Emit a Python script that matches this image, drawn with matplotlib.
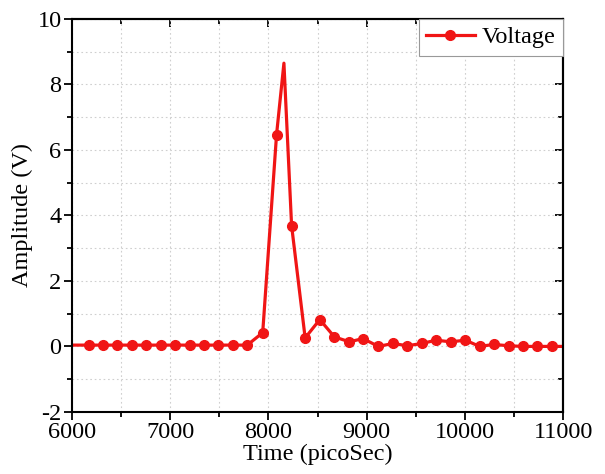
import numpy as np
from matplotlib import pyplot as plt
from matplotlib.ticker import MultipleLocator

# time points (ps) and amplitude (V)
time_ps = [6020, 6169, 6314, 6459, 6608, 6757, 6902, 7047, 7196, 7345, 7490,
           7639, 7784, 7941, 8082, 8157, 8235, 8373, 8522, 8671, 8824, 8961,
           9118, 9267, 9412, 9561, 9706, 9855, 10004, 10149, 10294, 10443,
           10588, 10737, 10882, 11000]
amplitude_v = [0.04, 0.04, 0.04, 0.04, 0.04, 0.04, 0.04, 0.04, 0.04, 0.04, 0.04,
               0.04, 0.04, 0.42, 6.47, 8.65, 3.69, 0.26, 0.82, 0.29, 0.14, 0.24,
               0.0, 0.09, 0.02, 0.09, 0.19, 0.14, 0.19, 0.0, 0.06, 0.02,
               0.0, 0.0, 0.0, 0.0]
# points drawn with a symbol (peak and the ends have none)
marked = [i for i in range(1, len(time_ps) - 1) if i != 15]

plt.rcParams['font.family'] = ['Liberation Serif', 'DejaVu Serif']
plt.rcParams['font.size'] = 17.5
plt.rcParams['axes.unicode_minus'] = False

fig = plt.figure(figsize=(6.05, 4.74), dpi=100)
ax = fig.add_axes([0.119, 0.131, 0.812, 0.829])

ax.plot(time_ps, amplitude_v, color='#f01515', linewidth=2.3, marker='o',
        markersize=7, markevery=marked, label='Voltage')

ax.set_xlim(6000, 11000)
ax.set_ylim(-2, 10)
ax.xaxis.set_major_locator(MultipleLocator(1000))
ax.xaxis.set_minor_locator(MultipleLocator(500))
ax.yaxis.set_major_locator(MultipleLocator(2))
ax.yaxis.set_minor_locator(MultipleLocator(1))

ax.grid(which='both', color='#cfcfcf', linestyle=(0, (1.5, 2.5)), linewidth=0.8)
ax.set_axisbelow(True)

for sp in ax.spines.values():
    sp.set_linewidth(1.5)
ax.tick_params(which='both', direction='out', width=1.3, top=False, right=False)
ax.tick_params(which='major', length=6, pad=1.5)
ax.tick_params(which='minor', length=3.5)

# inward ticks on top and right like the original
sec_x = ax.secondary_xaxis('top')
sec_x.xaxis.set_major_locator(MultipleLocator(1000))
sec_x.xaxis.set_minor_locator(MultipleLocator(500))
sec_x.tick_params(which='both', direction='in', width=1.3, labeltop=False)
sec_x.tick_params(which='major', length=6)
sec_x.tick_params(which='minor', length=3.5)
sec_x.spines['top'].set_linewidth(1.5)
sec_y = ax.secondary_yaxis('right')
sec_y.yaxis.set_major_locator(MultipleLocator(2))
sec_y.yaxis.set_minor_locator(MultipleLocator(1))
sec_y.tick_params(which='both', direction='in', width=1.3, labelright=False)
sec_y.tick_params(which='major', length=6)
sec_y.tick_params(which='minor', length=3.5)
sec_y.spines['right'].set_linewidth(1.5)

ax.set_xlabel('Time (picoSec)', labelpad=0)
ax.set_ylabel('Amplitude (V)', labelpad=3)

leg = ax.legend(loc='upper right', borderaxespad=0, fancybox=False,
                framealpha=1, edgecolor='#999999', handlelength=2.0,
                borderpad=0.3, handletextpad=0.3)
leg.get_frame().set_linewidth(0.8)

fig.savefig('out.png', dpi=100)
